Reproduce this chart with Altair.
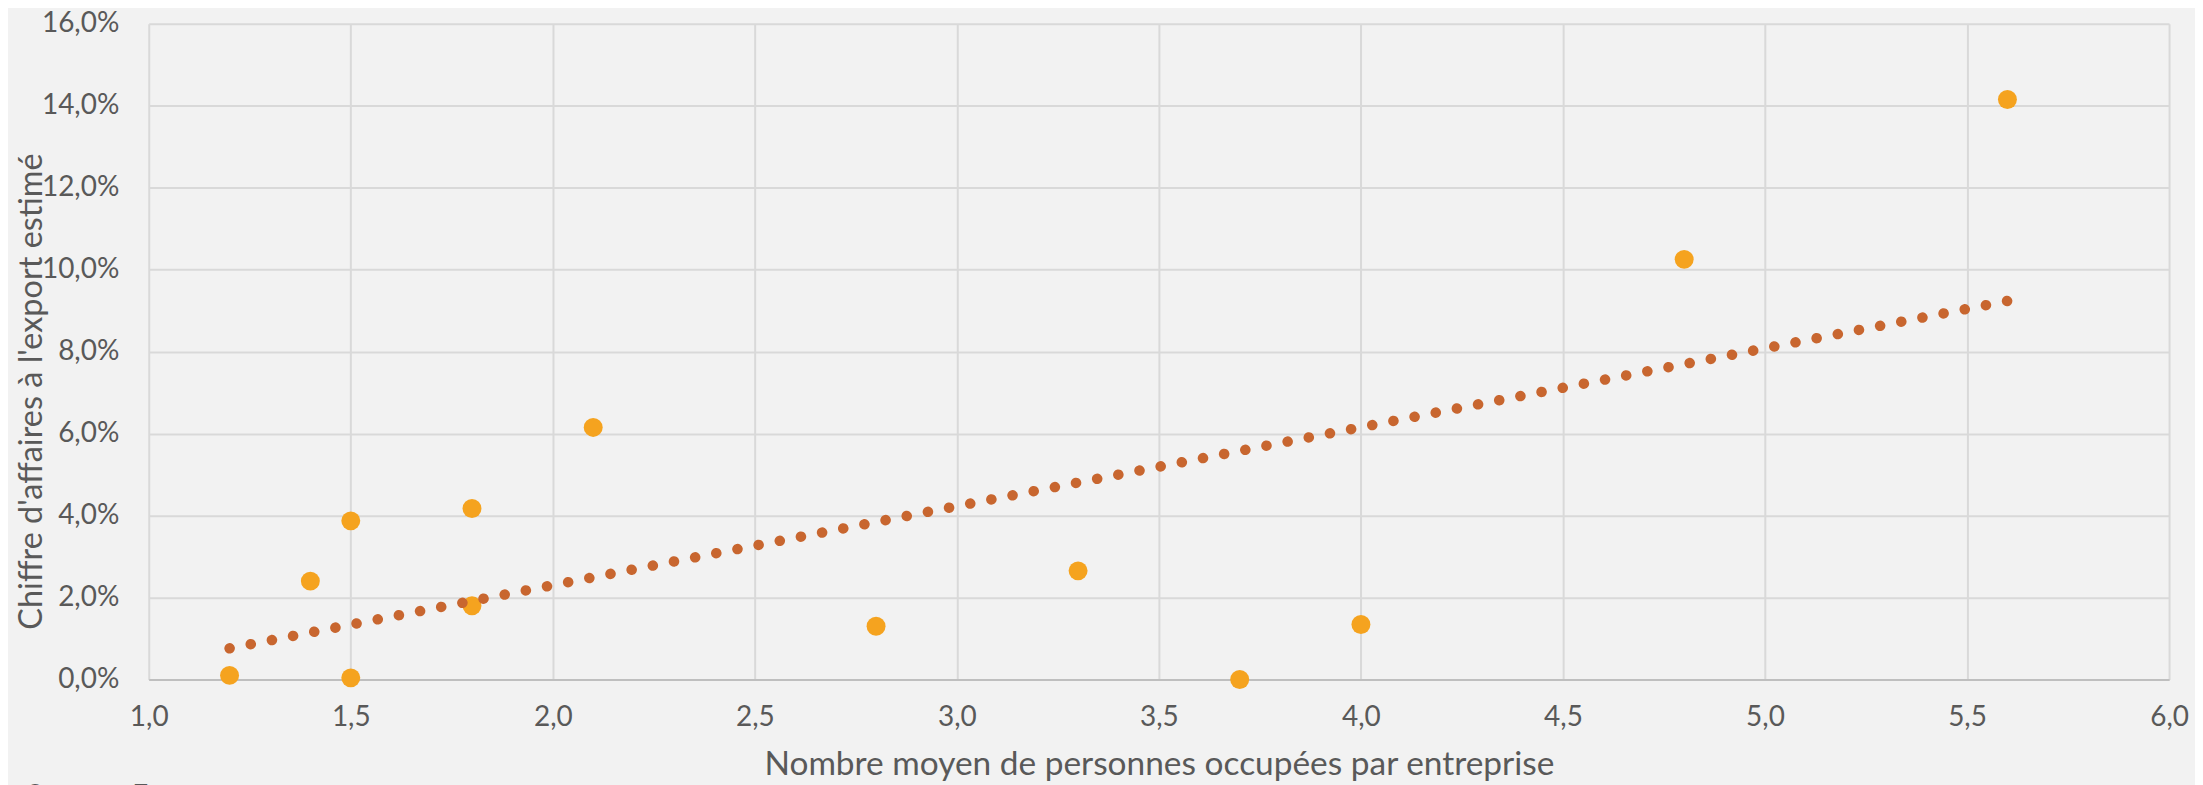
import altair as alt
import pandas as pd

# Data
personnes = [1.2, 1.4, 1.5, 1.5, 1.8, 1.8, 2.1, 2.8, 3.3, 3.7, 4.0, 4.8, 5.6]
export_pct = [0.1, 2.4, 3.87, 0.04, 4.17, 1.8, 6.15, 1.3, 2.65, 0.0, 1.34, 10.25, 14.15]

x_ticks = [1.0, 1.5, 2.0, 2.5, 3.0, 3.5, 4.0, 4.5, 5.0, 5.5, 6.0]
y_ticks = [0, 2, 4, 6, 8, 10, 12, 14, 16]

x_title = "Nombre moyen de personnes occupées par entreprise"
y_title = "Chiffre d'affaires à l'export estimé"
source_text = "Source : Eurostat"

df = pd.DataFrame({"x": personnes, "y": export_pct})

FONT = "Lato"
TXT = "#595959"
W, H = 2024, 657

x_enc = alt.X(
    "x:Q",
    scale=alt.Scale(domain=[1, 6], nice=False, zero=False),
    axis=alt.Axis(
        values=x_ticks,
        labelExpr="replace(format(datum.value, '.1f'), '.', ',')",
        labelFont=FONT, labelFontSize=28, labelColor=TXT, labelPadding=24,
        labelFlush=False, labelOverlap=False, labelBound=False,
        ticks=False,
        domain=True, domainColor="#BFBFBF", domainWidth=2,
        grid=True, gridColor="#D9D9D9", gridWidth=2,
        title=x_title, titleFont=FONT, titleFontSize=33.5, titleFontWeight="normal",
        titleColor=TXT, titleX=W / 2, titleY=95, titleAlign="center",
        titleBaseline="alphabetic",
    ),
)
y_enc = alt.Y(
    "y:Q",
    scale=alt.Scale(domain=[0, 16], nice=False),
    axis=alt.Axis(
        values=y_ticks,
        labelExpr="replace(format(datum.value, '.1f'), '.', ',') + '%'",
        labelFont=FONT, labelFontSize=28, labelColor=TXT, labelPadding=30,
        labelOverlap=False, labelFlush=False, labelBound=False,
        ticks=False, domain=False,
        grid=True, gridColor="#D9D9D9", gridWidth=2,
        title=y_title, titleFont=FONT, titleFontSize=32.5, titleFontWeight="normal",
        titleColor=TXT, titleAngle=270, titleX=-107, titleY=368,
        titleAlign="center", titleBaseline="alphabetic",
    ),
)

base = alt.Chart(df)

points = base.mark_circle(size=360, color="#F5A31F", opacity=1).encode(x=x_enc, y=y_enc)

trend = base.transform_regression("x", "y").mark_line(
    color="#C8662F", strokeWidth=10.5, strokeDash=[0.1, 21.5], strokeCap="round"
).encode(x="x:Q", y="y:Q")

source = alt.Chart(pd.DataFrame({"t": [source_text]})).mark_text(
    align="left", baseline="top", font=FONT, fontSize=28, color=TXT
).encode(text="t:N", x=alt.value(-122), y=alt.value(761))

chart = alt.layer(points, trend, source).properties(
    width=W, height=H,
    background="#F2F2F2",
    padding={"left": 141, "top": 15, "right": 26, "bottom": 110},
    autosize=alt.AutoSizeParams(type="none"),
).configure_view(stroke=None)

chart.save("out.html", embed_options={"renderer": "svg", "actions": False})
